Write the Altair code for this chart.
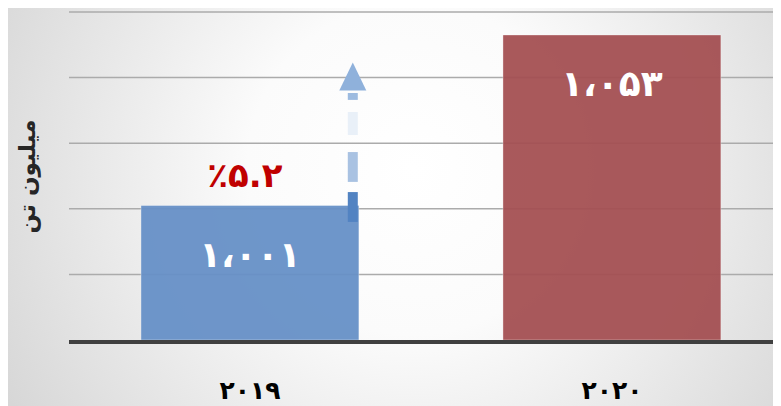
import altair as alt
import pandas as pd

# ---- data ----
years = ["۲۰۱۹", "۲۰۲۰"]
values = [1001, 1053]
value_labels = ["۱،۰۰۱", "۱،۰۵۳"]
bar_colors = ["#6690c7", "#a44f52"]
growth_label = "٪۵.۲"
y_title = "میلیون تن"
grid_values = [980, 1000, 1020, 1040, 1060]
axis_floor = 960

# arrow (decorative) segments, in data units
arrow_start = [1035.3, 1029.5, 1017.3, 1005.1]
arrow_end = [1033.2, 1022.5, 1008.2, 996.0]
arrow_colors = ["#9dbbe0", "#e9f0f8", "#a9c2e2", "#5283c2"]
arrow_head_y = [1040.2]

FONT = "DejaVu Sans"

bars_df = pd.DataFrame({"year": years, "value": values, "label": value_labels, "color": bar_colors})
pct_df = pd.DataFrame({"year": [years[0]], "value": [values[0]], "label": [growth_label]})
arrow_df = pd.DataFrame({"year": [years[0]] * 4, "a": arrow_start, "b": arrow_end, "c": arrow_colors})
head_df = pd.DataFrame({"year": [years[0]], "v": arrow_head_y})
grid_df = pd.DataFrame({"v": grid_values})
base_df = pd.DataFrame({"v": [axis_floor]})
bg_df = pd.DataFrame({"k": [0]})

x_scale = alt.Scale(domain=years, paddingInner=0.398, paddingOuter=0.1714, align=0.58)
y_scale = alt.Scale(domain=[960, 1060], nice=False, zero=False)

bg = alt.Chart(bg_df).mark_rect(
    color=alt.RadialGradient(
        gradient="radial", x1=0.53, y1=0.45, r1=0.0, x2=0.53, y2=0.45, r2=0.62,
        stops=[alt.GradientStop(offset=0, color="#ffffff"),
               alt.GradientStop(offset=0.35, color="#fbfbfb"),
               alt.GradientStop(offset=1, color="#d6d6d6")],
    )
).encode(x=alt.value(-61), x2=alt.value(704), y=alt.value(-4), y2=alt.value(394))

grid = alt.Chart(grid_df).mark_rule(color="#ababab", strokeWidth=1.5).encode(
    y=alt.Y("v:Q", scale=y_scale)
)

bars = alt.Chart(bars_df).mark_bar(opacity=0.94, stroke="#ffffff", strokeOpacity=0.35, strokeWidth=1).encode(
    x=alt.X("year:N", scale=x_scale, sort=years,
            axis=alt.Axis(title=None, labelFont=FONT, labelFontSize=25, labelFontWeight="bold",
                          labelColor="#000000", labelPadding=38, ticks=False, domain=False, grid=False,
                          labelAngle=0, zindex=1)),
    y=alt.Y("value:Q", scale=y_scale,
            axis=alt.Axis(title=y_title, titleFont=FONT, titleFontSize=23, titleFontWeight="bold",
                          titleColor="#262626", titlePadding=30, labels=False, ticks=False, domain=False,
                          grid=False, zindex=1)),
    y2=alt.datum(axis_floor),
    color=alt.Color("color:N", scale=None),
)

bar_text = alt.Chart(bars_df).mark_text(
    font=FONT, fontSize=36, fontWeight="bold", color="#ffffff", baseline="middle", dy=50
).encode(x=alt.X("year:N", scale=x_scale, sort=years), y=alt.Y("value:Q", scale=y_scale), text="label:N")

pct_text = alt.Chart(pct_df).mark_text(
    font=FONT, fontSize=34, fontWeight="bold", color="#c00000", baseline="middle", dy=-29, dx=-5
).encode(x=alt.X("year:N", scale=x_scale, sort=years), y=alt.Y("value:Q", scale=y_scale), text="label:N")

arrow = alt.Chart(arrow_df).mark_rule(strokeWidth=10, strokeCap="butt").encode(
    x=alt.X("year:N", scale=x_scale, sort=years, bandPosition=0.972),
    y=alt.Y("a:Q", scale=y_scale), y2="b:Q",
    color=alt.Color("c:N", scale=None),
)

head = alt.Chart(head_df).mark_point(
    shape="M0,-1.07L1,1L-1,1Z", size=729, filled=True, opacity=1,
    color="#8fb1db"
).encode(x=alt.X("year:N", scale=x_scale, sort=years, bandPosition=0.972), y=alt.Y("v:Q", scale=y_scale))

baseline = alt.Chart(base_df).mark_rule(color="#404040", strokeWidth=4).encode(
    y=alt.Y("v:Q", scale=y_scale), yOffset=alt.value(2)
)

chart = alt.layer(bg, grid, bars, arrow, head, bar_text, pct_text, baseline).properties(
    width=704, height=328,
    autosize=alt.AutoSizeParams(type="none"),
    padding={"left": 61, "top": 4, "right": 0, "bottom": 66},
).configure_view(stroke=None).configure(background="#dcdcdc")

chart.save("out.html", embed_options={"renderer": "svg", "actions": False})
